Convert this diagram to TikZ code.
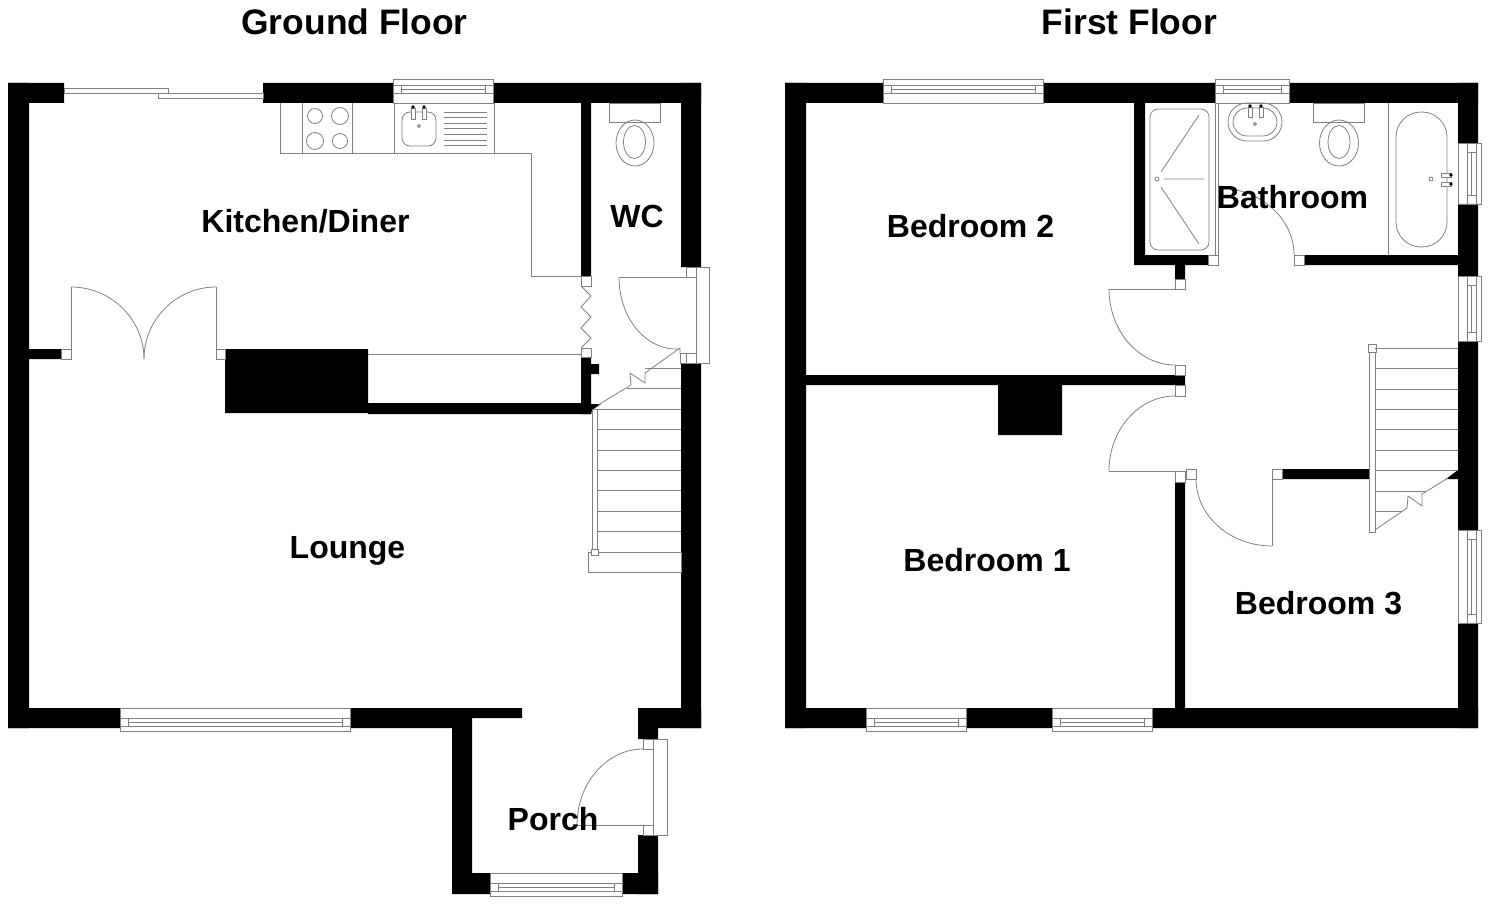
\documentclass[tikz,border=0pt]{standalone}
\usepackage{fontspec}
\setmainfont{Liberation Sans}
\usetikzlibrary{calc}
\newcommand{\winh}[4]{\begin{scope}[shift={(#1,#2)},yscale=#4]
  \draw[fitting] (0,0) rectangle (#3,23.5) (0,10) rectangle (8,18) (#3-8,10) rectangle (#3,18)
    (8,10) -- (#3-8,10) (8,14) -- (#3-8,14) (8,18) -- (#3-8,18);
\end{scope}}
\newcommand{\winv}[3]{\begin{scope}[shift={(#1,#2)}]
  \draw[fitting] (0,0) rectangle (23.5,#3) (9,0) rectangle (18,9) (9,#3-9) rectangle (18,#3)
    (9,9) -- (9,#3-9) (13.5,9) -- (13.5,#3-9) (18,9) -- (18,#3-9);
\end{scope}}
\newcommand{\swing}[3]{\draw[fitting] (#1) .. controls ($(#1)!.55!(#2)$) and ($(#3)!.55!(#2)$) .. (#3);}
\begin{document}
\begin{tikzpicture}[x=1pt,y=-1pt]
  \tikzstyle{wall}=[fill=black,draw=none]
  \tikzstyle{fitting}=[draw=black!50,line width=0.8pt]
  \tikzstyle{jamb}=[draw=black!50,line width=0.8pt,fill=white]
  \tikzstyle{room}=[font=\fontsize{32}{36}\selectfont\bfseries,inner sep=0pt]
  \tikzstyle{floorname}=[font=\fontsize{35.4}{40}\selectfont\bfseries,inner sep=0pt]
  \useasboundingbox (0,0) rectangle (1488,904);

  \node (ground) at (354.5,22) [floorname] {Ground Floor};
  \node (first) at (1129.5,22) [floorname] {First Floor};

  \fill[wall] (8,83) rectangle (64,103) (263,83) rectangle (393,103) (493,83) rectangle (701,103);
  \fill[wall] (8,83) rectangle (29,728) (681,83) rectangle (701,267) (681,363) rectangle (701,728);
  \fill[wall] (8,708) rectangle (120,728) (350,708) rectangle (452,728) (452,708) rectangle (522,718);
  \fill[wall] (638,708) rectangle (701,728) (638,708) rectangle (658,739) (638,835) rectangle (658,894);
  \fill[wall] (452,708) rectangle (472,894) (452,873) rectangle (490,894) (622,873) rectangle (658,894);
  \fill[wall] (29,349) rectangle (61,359) (225,349) rectangle (368,413) (368,403) rectangle (591,414);
  \fill[wall] (581,103) rectangle (591,276) (581,357) rectangle (591,414) (591,364) rectangle (599,374);
  \fill[wall] (591,404) -- (601,404) -- (592,410) -- (591,414) -- cycle;

  \draw[fitting] (64,88) rectangle (168,93) (158,93) rectangle (263,98);
  \winh{393}{103}{100}{-1}
  \winh{120}{708}{230}{1}
  \winh{490}{873}{132}{1}

  \draw[fitting] (280,103) -- (280,153) -- (531,153) -- (531,276) -- (581,276);
  \draw[fitting] (302,103) -- (302,153) (352,103) -- (352,153) (394,103) -- (394,153) (494,103) -- (494,153);
  \draw[fitting] (315,116) circle (7.5) (340,116) circle (8.5) (315,141) circle (8.5) (340,141) circle (7.5);
  \draw[fitting,rounded corners=8pt] (402,112) rectangle (436,146);
  \draw[fitting] (419,126) circle (1.5);
  \draw[fitting,fill=white] (411,108) rectangle (415,119) (422,108) rectangle (426,119);
  \fill[black] (413,107) circle (1.8) (424,107) circle (1.8);
  \foreach \y in {112,117,123,128,134,140,145}
    \draw[fitting] (444,\y) -- (487,\y);

  \draw[fitting] (609,103) rectangle (660,122);
  \draw[fitting] (635,143) ellipse (19 and 23) (634.5,142) ellipse (11 and 16.5);

  \draw[jamb] (61,349) rectangle (71,359) (216,349) rectangle (225,359);
  \draw[fitting] (71,349) -- (71,287) (216,349) -- (216,287);
  \swing{71,287}{144,287}{144,359}
  \swing{216,287}{144,287}{144,359}

  \draw[jamb] (581,276) rectangle (591,286) (581,348) rectangle (591,357);
  \draw[fitting] (581,286) -- (591,296) -- (581,307) -- (591,317) -- (581,328) -- (591,338) -- (581,348);
  \draw[fitting] (368,354) -- (581,354);

  \draw[fitting] (696,267) rectangle (709,363);
  \draw[fitting] (686,267) rectangle (696,277) (686,353) rectangle (696,363) (680,353) rectangle (686,363);
  \draw[fitting] (696,277) -- (619,277);
  \swing{619,277}{619,353}{680,349}

  \draw[fitting] (653,739) rectangle (667,835);
  \draw[fitting] (643,739) rectangle (653,749) (643,825) rectangle (653,835);
  \draw[fitting] (653,825) -- (577,825);
  \swing{577,825}{577,749}{643,749}

  \draw[fitting] (592,409) rectangle (597,555) (588,552) rectangle (681,572);
  \draw[jamb] (591,549) rectangle (598,555);
  \foreach \y in {409,429,450,470,490,511,531}
    \draw[fitting] (597,\y) -- (681,\y);
  \draw[fitting] (645,368) -- (681,368) (627,388) -- (681,388);
  \draw[fitting] (598,405) -- (631,385) -- (630,373) -- (645,383) -- (645,373) -- (680,348) -- (680,353);

  \fill[wall] (785,83) rectangle (883,103) (1043,83) rectangle (1215,103) (1289,83) rectangle (1478,103);
  \fill[wall] (785,83) rectangle (806,728) (1458,83) rectangle (1478,143) (1458,204) rectangle (1478,276);
  \fill[wall] (1458,341) rectangle (1478,530) (1458,623) rectangle (1478,728);
  \fill[wall] (785,708) rectangle (866,728) (966,708) rectangle (1052,728) (1152,708) rectangle (1478,728);
  \fill[wall] (806,375) rectangle (1185,385) (998,385) rectangle (1062,435) (1175,482) rectangle (1185,708);
  \fill[wall] (1134,103) rectangle (1145,265) (1134,255) rectangle (1208,265) (1304,255) rectangle (1458,265);
  \fill[wall] (1175,265) rectangle (1185,279) (1282,469) rectangle (1369,479);
  \fill[wall] (1458,470) -- (1458,479) -- (1446,479) -- cycle;

  \winh{883}{103}{160}{-1}
  \winh{1215}{103}{74}{-1}
  \winh{866}{708}{100}{1}
  \winh{1052}{708}{100}{1}
  \winv{1458}{143}{61}
  \winv{1458}{276}{65}
  \winv{1458}{530}{93}

  \draw[fitting] (1215,103) -- (1215,255) (1218,103) -- (1218,255) (1388,103) -- (1388,255);
  \draw[fitting,rounded corners=8pt] (1150,109) rectangle (1209,250);
  \draw[fitting] (1161,172) -- (1199,115) (1161,187) -- (1199,244) (1164,179) -- (1204,179);
  \draw[fitting] (1157,179) circle (2);
  \draw[fitting,rounded corners=19pt] (1228,103) rectangle (1282,141);
  \draw[fitting,rounded corners=14pt] (1233,108) rectangle (1277,136);
  \draw[fitting] (1255,124) circle (1.5);
  \draw[fitting,fill=white] (1248,107) rectangle (1252,117) (1259,107) rectangle (1263,117);
  \fill[black] (1250,106) circle (1.8) (1261,106) circle (1.8);
  \draw[fitting] (1313,103) rectangle (1364,122);
  \draw[fitting] (1339,143) ellipse (19.5 and 23) (1339,142) ellipse (11 and 16.5);
  \draw[fitting,rounded corners=25pt] (1396,112) rectangle (1447,247);
  \draw[fitting] (1431,179) circle (2);
  \draw[fitting,fill=white] (1441,173) rectangle (1451,177) (1441,182) rectangle (1451,186);
  \fill[black] (1451,175) circle (1.8) (1451,184) circle (1.8);

  \draw[jamb] (1208,255) rectangle (1218,265) (1294,255) rectangle (1304,265);
  \draw[fitting] (1218,255) -- (1218,188);
  \swing{1218,188}{1294,188}{1294,255}

  \draw[jamb] (1175,279) rectangle (1185,289) (1175,365) rectangle (1185,375)
    (1175,385) rectangle (1185,396) (1175,471) rectangle (1185,482)
    (1186,469) rectangle (1196,479) (1272,469) rectangle (1282,479);
  \draw[fitting] (1175,289) -- (1109,289) (1175,471) -- (1109,471) (1272,479) -- (1272,546);
  \swing{1109,289}{1109,365}{1175,365}
  \swing{1175,396}{1109,396}{1109,471}
  \swing{1196,479}{1196,546}{1272,546}

  \draw[fitting] (1369,348) rectangle (1375,532);
  \draw[jamb] (1368,344) rectangle (1376,352);
  \foreach \y in {348,368,389,409,429,450,470}
    \draw[fitting] (1375,\y) -- (1458,\y);
  \draw[fitting] (1375,491) -- (1425,491) (1375,511) -- (1402,511);
  \draw[fitting] (1375,530) -- (1407,508) -- (1408,496) -- (1422,506) -- (1422,494) -- (1448,478);

  \node (kitchen) at (305.5,221) [room] {Kitchen/Diner};
  \node (wc) at (637,216) [room] {WC};
  \node (lounge) at (347.5,551) [room] {Lounge};
  \node (porch) at (553,819) [room] {Porch};
  \node (bed2) at (970.5,226) [room] {Bedroom 2};
  \node (bath) at (1292.5,197) [room] {Bathroom};
  \node (bed1) at (987,560) [room] {Bedroom 1};
  \node (bed3) at (1318.5,603) [room] {Bedroom 3};
\end{tikzpicture}
\end{document}
